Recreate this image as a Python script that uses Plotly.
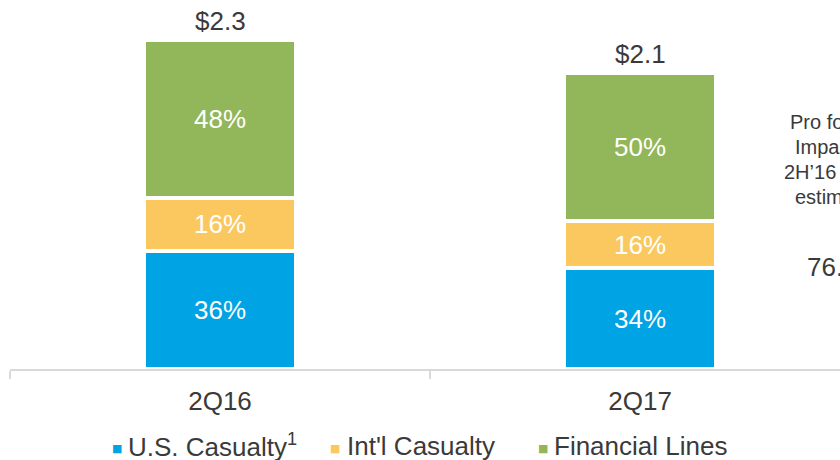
import plotly.graph_objects as go

# ---- data ----
categories = ["2Q16", "2Q17"]
totals = [2.30, 2.07]              # $bn, bar heights
total_labels = ["$2.3", "$2.1"]
us_casualty = [36, 34]             # % of total
intl_casualty = [16, 16]
financial_lines = [48, 50]
series_names = ["U.S. Casualty", "Int'l Casualty", "Financial Lines"]
legend_labels = ["U.S. Casualty<sup>1</sup>", "Int'l Casualty", "Financial Lines"]
side_text = ["Pro fo", "Impa", "2H\u201916", "estim"]
side_value = "76."

colors = ["#00A3E3", "#FBC85F", "#92B65A"]
FONT = "Liberation Sans, Arial, sans-serif"
TXT = "#3A3A3A"
FS = 26

W, H = 840, 460
ML, MB = 10, 91
PW, PH = W - ML, H - MB

def px_x(x):
    return (x - ML) / PW

def px_y(y):
    return (PH - y) / PH

fig = go.Figure()
for name, shares, col in zip(series_names, [us_casualty, intl_casualty, financial_lines], colors):
    vals = [t * s / 100 for t, s in zip(totals, shares)]
    fig.add_trace(go.Bar(
        x=categories, y=vals, name=name,
        width=0.362,
        marker=dict(color=col, line=dict(color="white", width=4)),
        text=[f"{s}%" for s in shares],
        textposition="inside", insidetextanchor="middle", textangle=0,
        textfont=dict(color="white", size=FS, family=FONT),
        constraintext="none",
        hoverinfo="skip", showlegend=False,
    ))

annotations = []
for c, t, lab in zip(categories, totals, total_labels):
    annotations.append(dict(x=c, y=t, xref="x", yref="y", text=lab, showarrow=False,
                            yanchor="bottom", yshift=2,
                            font=dict(size=FS, color=TXT, family=FONT)))

# side text (cut at the right edge, as in the source)
side_x = [788, 793, 782, 793]
side_y = [122, 147, 172, 197]
for s, xx, yy in zip(side_text, side_x, side_y):
    annotations.append(dict(x=px_x(xx), y=px_y(yy), xref="paper", yref="paper", text=s,
                            showarrow=False, xanchor="left", yanchor="middle",
                            font=dict(size=20, color=TXT, family=FONT)))
annotations.append(dict(x=px_x(805), y=px_y(267), xref="paper", yref="paper", text=side_value,
                        showarrow=False, xanchor="left", yanchor="middle",
                        font=dict(size=FS, color=TXT, family=FONT)))

# legend row: swatch + label
sw_x = [110, 328, 536]
lab_x = [126, 345, 552]
for sx, lx, col, lt in zip(sw_x, lab_x, colors, legend_labels):
    annotations.append(dict(
        x=px_x(sx), y=px_y(448), xref="paper", yref="paper", showarrow=False,
        xanchor="left", yanchor="middle", text="\u25A0",
        font=dict(size=11, color=col, family="DejaVu Sans")))
    annotations.append(dict(
        x=px_x(lx), y=px_y(446), xref="paper", yref="paper", showarrow=False,
        xanchor="left", yanchor="middle", text=lt,
        font=dict(size=FS, color=TXT, family=FONT)))

fig.update_layout(
    width=W, height=H, autosize=False,
    margin=dict(l=ML, r=0, t=0, b=MB, pad=0),
    barmode="stack",
    plot_bgcolor="white", paper_bgcolor="white",
    font=dict(family=FONT, color=TXT),
    annotations=annotations,
    xaxis=dict(type="category", range=[-0.5, 1.476], showline=True, linecolor="#D9D9D9",
               linewidth=2, ticks="outside", tickson="boundaries", ticklen=8, tickwidth=2,
               tickcolor="#D9D9D9", showgrid=False, zeroline=False,
               tickfont=dict(size=FS, color=TXT, family=FONT), ticklabelstandoff=8),
    yaxis=dict(visible=False, range=[0, 2.58]),
)

fig.write_html("out.html", config={"displayModeBar": False},
               post_script="document.body.style.margin='0';")
